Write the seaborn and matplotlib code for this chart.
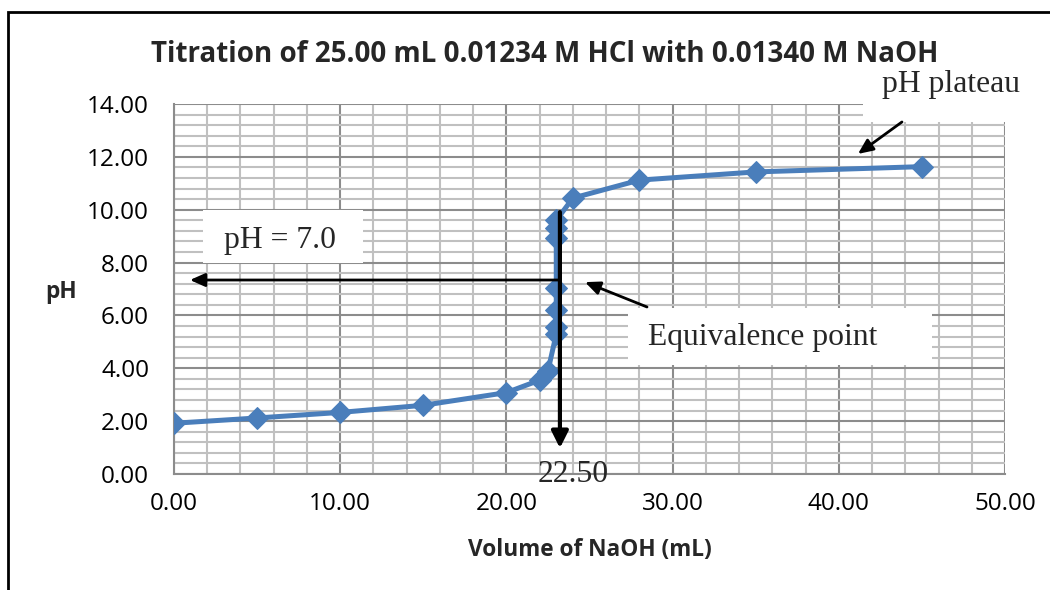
import pandas as pd
import seaborn as sns
import matplotlib.pyplot as plt
from matplotlib.patches import Rectangle
from matplotlib.ticker import MultipleLocator

# Titration readings
volume = [0.0, 5.0, 10.0, 15.0, 20.0, 22.0, 22.5, 23.0, 23.0, 23.0, 23.0,
          23.0, 23.0, 23.0, 24.0, 28.0, 35.0, 45.0]
ph = [1.92, 2.12, 2.33, 2.60, 3.08, 3.55, 3.90, 5.30, 5.56, 6.22, 7.02,
      8.93, 9.30, 9.60, 10.44, 11.12, 11.43, 11.63]
x_ticks = [0, 10, 20, 30, 40, 50]
y_ticks = [0, 2, 4, 6, 8, 10, 12, 14]

df = pd.DataFrame({'Volume': volume, 'pH': ph})

sns.set_style('white')
plt.rcParams['font.family'] = ['Open Sans', 'DejaVu Sans']

blue = '#4A7EBB'
serif = ['Liberation Serif', 'DejaVu Serif']

fig = plt.figure(figsize=(10.5, 5.9), dpi=100)
ax = fig.add_axes([174 / 1050, 1 - 474 / 590, 831 / 1050, 370 / 590])

ax.set_xlim(0, 50)
ax.set_ylim(0, 14)
ax.xaxis.set_minor_locator(MultipleLocator(2))
ax.yaxis.set_minor_locator(MultipleLocator(0.4))
ax.set_xticks(x_ticks)
ax.set_yticks(y_ticks)
ax.set_xticklabels([f'{v:.2f}' for v in x_ticks])
ax.set_yticklabels([f'{v:.2f}' for v in y_ticks])

ax.grid(True, which='minor', color='#c0c0c0', linewidth=1.5)
ax.grid(True, which='major', color='#8c8c8c', linewidth=1.5)
ax.set_axisbelow(True)

for side in ['top', 'right']:
    ax.spines[side].set_visible(False)
for side in ['left', 'bottom']:
    ax.spines[side].set_color('#8c8c8c')
    ax.spines[side].set_linewidth(1.5)

ax.tick_params(which='major', direction='out', length=5, width=1.5,
               color='#8c8c8c', labelsize=17.5, labelcolor='black')
ax.tick_params(axis='y', pad=13)
ax.tick_params(axis='x', pad=8)
ax.tick_params(which='minor', length=0)

sns.lineplot(data=df, x='Volume', y='pH', ax=ax, estimator=None, sort=False,
             color=blue, linewidth=3.6, marker='D', markersize=11.5,
             markeredgecolor=blue, zorder=3)
ax.set_xlabel('')
ax.set_ylabel('')

# annotation boxes
ax.add_patch(Rectangle((1.74, 7.97), 9.63, 2.02, facecolor='white',
                       edgecolor='none', zorder=2))
ax.add_patch(Rectangle((27.32, 4.12), 18.29, 2.16, facecolor='white',
                       edgecolor='none', zorder=2))
ax.add_patch(Rectangle((41.46, 13.32), 9.6, 1.6, facecolor='white',
                       edgecolor='none', zorder=2, clip_on=False))

ax.text(6.4, 8.85, 'pH = 7.0', family=serif, fontsize=22.8,
        ha='center', va='center', zorder=4)
ax.text(35.45, 5.18, 'Equivalence point', family=serif, fontsize=22.8,
        ha='center', va='center', zorder=4)
ax.text(46.75, 14.72, 'pH plateau', family=serif, fontsize=22.8,
        ha='center', va='center', zorder=4, clip_on=False)
ax.text(24.0, -0.3, '22.50', family=serif, fontsize=22.8,
        ha='center', va='baseline', zorder=4, clip_on=False)

# arrows
ax.annotate('', xy=(23.22, 0.98), xytext=(23.22, 9.91),
            arrowprops=dict(arrowstyle='-|>,head_length=1.0,head_width=0.5',
                            color='black', lw=3, shrinkA=0, shrinkB=0), zorder=5)
ax.annotate('', xy=(0.96, 7.34), xytext=(23.1, 7.34),
            arrowprops=dict(arrowstyle='-|>,head_length=0.9,head_width=0.4',
                            color='black', lw=2, shrinkA=0, shrinkB=0), zorder=5)
ax.annotate('', xy=(24.73, 7.26), xytext=(28.46, 6.32),
            arrowprops=dict(arrowstyle='-|>,head_length=0.9,head_width=0.4',
                            color='black', lw=2, shrinkA=0, shrinkB=0), zorder=5)
ax.annotate('', xy=(41.15, 12.11), xytext=(43.8, 13.32),
            arrowprops=dict(arrowstyle='-|>,head_length=0.9,head_width=0.4',
                            color='black', lw=2, shrinkA=0, shrinkB=0), zorder=5)

fig.text(545 / 1050, 1 - 62 / 590,
         'Titration of 25.00 mL 0.01234 M HCl with 0.01340 M NaOH',
         ha='center', va='baseline', fontsize=20, fontweight='bold')
fig.text(590 / 1050, 1 - 556 / 590, 'Volume of NaOH (mL)',
         ha='center', va='baseline', fontsize=16.3, fontweight='bold')
fig.text(61 / 1050, 1 - 298 / 590, 'pH',
         ha='center', va='baseline', fontsize=16.3, fontweight='bold')

# outer chart frame
fig.add_artist(Rectangle((8 / 1050, -0.5), 2, 1 - 11.5 / 590 + 0.5,
                         transform=fig.transFigure, fill=False,
                         edgecolor='black', linewidth=2))

fig.savefig('out.png', dpi=100)
